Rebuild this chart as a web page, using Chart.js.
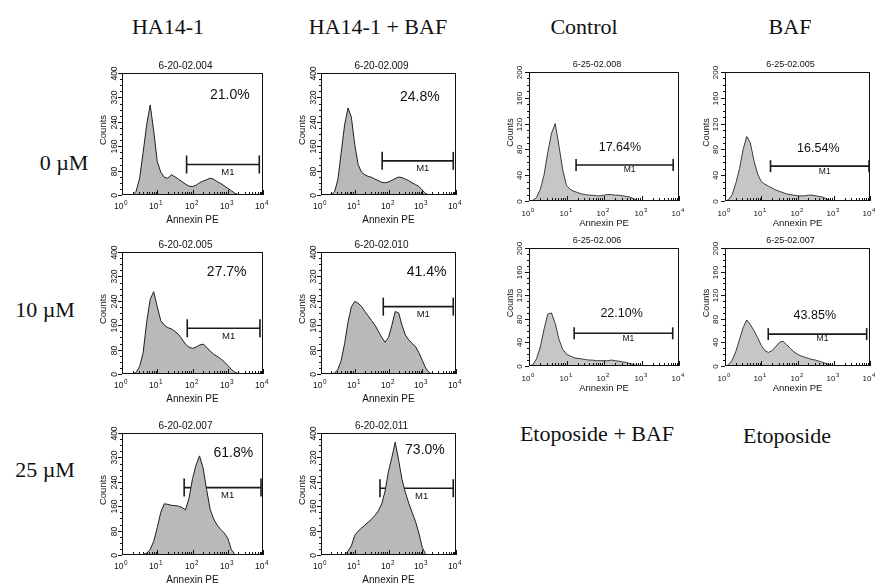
<!DOCTYPE html>
<html>
<head>
<meta charset="utf-8">
<script src="https://cdn.jsdelivr.net/npm/chart.js@4"></script>
<style>
  body { margin: 0; background: #fff; }
  #figure { position: relative; width: 875px; height: 584px; overflow: hidden; background: #fff; }
  #figure canvas { position: absolute; }
  .lbl { position: absolute; font-family: "Liberation Serif", "Times New Roman", serif; font-size: 22px;
         line-height: 1; color: #111; white-space: nowrap; transform: translate(-50%, -50%); }
</style>
</head>
<body>
<div id="figure">
  <div class="lbl" style="left:168px;top:27px">HA14-1</div>
  <div class="lbl" style="left:378px;top:27px">HA14-1 + BAF</div>
  <div class="lbl" style="left:584px;top:27px">Control</div>
  <div class="lbl" style="left:790px;top:27px">BAF</div>
  <div class="lbl" style="left:64px;top:163px">0 µM</div>
  <div class="lbl" style="left:45px;top:310px">10 µM</div>
  <div class="lbl" style="left:45px;top:470px">25 µM</div>
  <div class="lbl" style="left:597px;top:434px">Etoposide + BAF</div>
  <div class="lbl" style="left:787px;top:436px">Etoposide</div>
</div>
<script>
// Annexin PE channel (log scale, one point per 0.1 decade)
const channels = [1, 1.26, 1.58, 2, 2.51, 3.16, 3.98, 5.01, 6.31, 7.94,
  10, 12.6, 15.8, 20, 25.1, 31.6, 39.8, 50.1, 63.1, 79.4,
  100, 126, 158, 200, 251, 316, 398, 501, 631, 794,
  1000, 1259, 1585, 1995, 2512, 3162, 3981, 5012, 6310, 7943, 10000];

// histogram counts
const countsHA0 = [0,0,0,0,12,55,140,230,295,210, 110,75,58,55,66,60,52,44,36,29,
  28,32,40,46,50,55,52,44,38,30, 22,14,6,1,0,0,0,0,0,0,0];
const countsHABaf0 = [0,0,0,0,10,50,140,230,285,255, 165,100,75,66,61,58,52,47,42,40,
  43,48,54,59,57,52,47,40,34,28, 16,5,0,0,0,0,0,0,0,0,0];
const countsHA10 = [0,0,0,0,5,25,70,170,245,270, 220,175,160,152,148,140,130,115,98,88,
  84,88,95,98,88,75,65,58,50,40, 28,15,6,1,0,0,0,0,0,0,0];
const countsHABaf10 = [0,0,0,0,3,15,45,100,170,220, 238,232,222,205,190,175,160,140,120,104,
  120,160,205,200,160,128,112,100,90,70, 45,20,5,0,0,0,0,0,0,0,0];
const countsHA25 = [0,0,0,0,0,0,2,6,18,45, 90,140,168,166,163,162,160,156,148,185,
  250,295,325,285,215,150,118,98,84,72, 55,18,2,0,0,0,0,0,0,0,0];
const countsHABaf25 = [0,0,0,0,0,0,0,2,12,30, 65,78,88,98,108,118,130,145,168,210,
  275,320,370,310,248,205,170,140,110,72, 25,2,0,0,0,0,0,0,0,0,0];
const countsControl = [0,1,5,18,40,75,105,120,85,48, 24,18,15,13,11,10,9,9,8,8,
  9,10,10,9,9,8,7,6,3,1, 0,0,0,0,0,0,0,0,0,0,0];
const countsBaf = [0,2,10,28,50,80,100,90,62,42, 30,26,23,20,17,15,13,11,10,9,
  8,8,8,9,9,8,7,6,3,1, 0,0,0,0,0,0,0,0,0,0,0];
const countsEtoBaf = [0,2,12,32,62,88,90,72,45,28, 20,17,14,13,12,11,10,10,9,9,
  9,9,10,9,8,7,6,4,2,1, 0,0,0,0,0,0,0,0,0,0,0];
const countsEto = [0,2,10,25,45,65,78,70,60,48, 35,26,23,26,33,40,42,36,30,24,
  20,17,15,13,11,10,8,6,4,2, 0,0,0,0,0,0,0,0,0,0,0];

const runIds = ['6-20-02.004', '6-20-02.009', '6-20-02.005', '6-20-02.010', '6-20-02.007',
  '6-20-02.011', '6-25-02.008', '6-25-02.005', '6-25-02.006', '6-25-02.007'];
const pctText = ['21.0%', '24.8%', '27.7%', '41.4%', '61.8%', '73.0%', '17.64%', '16.54%', '22.10%', '43.85%'];
const pctX = [1150, 850, 935, 1350, 1440, 1200, 265, 375, 295, 300];
const pctY = [328, 322, 335, 335, 333, 344, 82.6, 81.7, 89, 85];

// M1 gate
const gateStart = [68, 65, 71, 70, 58, 56, 18, 18, 16, 15.6];
const gateEnd = [7850, 8300, 8200, 8300, 8800, 8300, 7000, 9400, 6800, 8100];
const gateLevel = [100, 112, 150, 221, 221, 219, 55.8, 54, 55.4, 54];

// axes
const xDecades = [1, 10, 100, 1000, 10000];
const xExponents = ['0', '1', '2', '3', '4'];
const xMinor = [2, 3, 4, 5, 6, 7, 8, 9];
const yTicks400 = [0, 80, 160, 240, 320, 400];
const yTicks200 = [0, 40, 80, 120, 160, 200];

const styles = {
  left: { yMax: 400, yTicks: yTicks400, yMinor: 20, tick: 8.5, xlab: 14, xtitle: 25, ylab: 7, ctitle: 19,
          run: 10, pct: 14, m1: 9.5, fill: '#b9b9b9', line: '#1e1e1e', cap: 9 },
  right: { yMax: 200, yTicks: yTicks200, yMinor: 10, tick: 8, xlab: 14.5, xtitle: 22, ylab: 9, ctitle: 18.5,
          run: 9, pct: 12.5, m1: 8.5, fill: '#c6c6c6', line: '#3a3a3a', cap: 6 }
};

// plot box of each panel on the page: [left, top, right, bottom]
const panels = [
  { counts: countsHA0,     box: [122, 73, 263, 195],  kind: 'left' },
  { counts: countsHABaf0,  box: [321, 73, 456, 195],  kind: 'left' },
  { counts: countsHA10,    box: [122, 252, 263, 374], kind: 'left' },
  { counts: countsHABaf10, box: [321, 252, 456, 374], kind: 'left' },
  { counts: countsHA25,    box: [122, 433, 263, 555], kind: 'left' },
  { counts: countsHABaf25, box: [321, 433, 456, 555], kind: 'left' },
  { counts: countsControl, box: [529, 72, 679, 201],  kind: 'right' },
  { counts: countsBaf,     box: [725, 72, 870, 201],  kind: 'right' },
  { counts: countsEtoBaf,  box: [529, 248, 679, 366], kind: 'right' },
  { counts: countsEto,     box: [725, 248, 870, 366], kind: 'right' }
];

const PAD = { left: 34, top: 16, right: 12, bottom: 34 };
const SANS = '"Liberation Sans", Arial, sans-serif';

function seg(ctx, x1, y1, x2, y2) {
  ctx.beginPath();
  ctx.moveTo(x1, y1);
  ctx.lineTo(x2, y2);
  ctx.stroke();
}

const flowDecor = {
  id: 'flowDecor',
  afterDatasetsDraw(chart, args, opts) {
    const { ctx, chartArea: a } = chart;
    const x = chart.scales.x, y = chart.scales.y;
    const i = opts.index;
    const s = styles[opts.kind];
    ctx.save();
    ctx.strokeStyle = '#111';
    ctx.fillStyle = '#111';
    ctx.lineWidth = 1;
    ctx.strokeRect(a.left + 0.5, a.top + 0.5, a.right - a.left - 1, a.bottom - a.top - 1);

    // x ticks (inside) and labels
    xDecades.forEach((v, k) => {
      const px = Math.round(x.getPixelForValue(v)) + 0.5;
      seg(ctx, px, a.bottom, px, a.bottom - 5);
      if (k < xDecades.length - 1) {
        xMinor.forEach(m => {
          const q = Math.round(x.getPixelForValue(v * m)) + 0.5;
          seg(ctx, q, a.bottom, q, a.bottom - 3);
        });
      }
      ctx.font = `${s.tick}px ${SANS}`;
      ctx.textAlign = 'right';
      ctx.textBaseline = 'alphabetic';
      ctx.fillText('10', px + 1, a.bottom + s.xlab);
      ctx.font = `${s.tick * 0.75}px ${SANS}`;
      ctx.textAlign = 'left';
      ctx.fillText(xExponents[k], px + 1.5, a.bottom + s.xlab - s.tick * 0.5);
    });
    ctx.font = `${s.tick + 1.5}px ${SANS}`;
    ctx.textAlign = 'center';
    ctx.textBaseline = 'middle';
    ctx.fillText('Annexin PE', (a.left + a.right) / 2, a.bottom + s.xtitle);

    // y ticks (outside) and rotated labels
    for (let v = 0; v <= s.yMax; v += s.yMinor) {
      const py = Math.round(y.getPixelForValue(v)) + 0.5;
      seg(ctx, a.left, py, a.left - 2, py);
    }
    s.yTicks.forEach(v => {
      const py = Math.round(y.getPixelForValue(v)) + 0.5;
      seg(ctx, a.left, py, a.left - 4, py);
      ctx.save();
      ctx.translate(a.left - s.ylab, py);
      ctx.rotate(-Math.PI / 2);
      ctx.font = `${s.tick}px ${SANS}`;
      ctx.textAlign = 'center';
      ctx.textBaseline = 'middle';
      ctx.fillText(String(v), 0, 0);
      ctx.restore();
    });
    ctx.save();
    ctx.translate(a.left - s.ctitle, (a.top + a.bottom) / 2 - 4);
    ctx.rotate(-Math.PI / 2);
    ctx.font = `${s.tick + 1}px ${SANS}`;
    ctx.textAlign = 'center';
    ctx.textBaseline = 'middle';
    ctx.fillText('Counts', 0, 0);
    ctx.restore();

    // run id above the frame
    ctx.font = `${s.run}px ${SANS}`;
    ctx.textAlign = 'center';
    ctx.textBaseline = 'middle';
    ctx.fillText(runIds[i], (a.left + a.right) / 2 - 7, a.top - 7);

    // percentage and M1 label
    ctx.font = `${s.pct}px ${SANS}`;
    ctx.fillText(pctText[i], x.getPixelForValue(pctX[i]), y.getPixelForValue(pctY[i]));
    ctx.font = `${s.m1}px ${SANS}`;
    const gx = (x.getPixelForValue(gateStart[i]) + x.getPixelForValue(gateEnd[i])) / 2 + 5;
    ctx.fillText('M1', gx, y.getPixelForValue(gateLevel[i]) + s.cap - 1);
    ctx.restore();
  }
};

const figure = document.getElementById('figure');

panels.forEach((p, i) => {
  const s = styles[p.kind];
  const [l, t, r, b] = p.box;
  const canvas = document.createElement('canvas');
  const w = (r - l) + PAD.left + PAD.right;
  const h = (b - t) + PAD.top + PAD.bottom;
  canvas.width = w;
  canvas.height = h;
  canvas.style.left = (l - PAD.left) + 'px';
  canvas.style.top = (t - PAD.top) + 'px';
  canvas.style.width = w + 'px';
  canvas.style.height = h + 'px';
  figure.appendChild(canvas);

  new Chart(canvas, {
    type: 'line',
    data: {
      datasets: [
        {
          data: channels.map((c, k) => ({ x: c, y: p.counts[k] })),
          fill: 'origin',
          backgroundColor: s.fill,
          borderColor: s.line,
          borderWidth: 1,
          pointRadius: 0,
          tension: 0
        },
        {
          data: [{ x: gateStart[i], y: gateLevel[i] }, { x: gateEnd[i], y: gateLevel[i] }],
          fill: false,
          borderColor: '#1a1a1a',
          borderWidth: 1.6,
          pointStyle: 'line',
          pointRotation: 90,
          pointRadius: s.cap,
          pointBorderWidth: 1.6,
          pointBorderColor: '#1a1a1a'
        }
      ]
    },
    options: {
      responsive: false,
      animation: false,
      events: [],
      layout: { padding: PAD },
      plugins: {
        legend: { display: false },
        tooltip: { enabled: false },
        flowDecor: { index: i, kind: p.kind }
      },
      scales: {
        x: { type: 'logarithmic', min: 1, max: 10000, display: false },
        y: { type: 'linear', min: 0, max: s.yMax, display: false }
      }
    },
    plugins: [flowDecor]
  });
});
</script>
</body>
</html>
